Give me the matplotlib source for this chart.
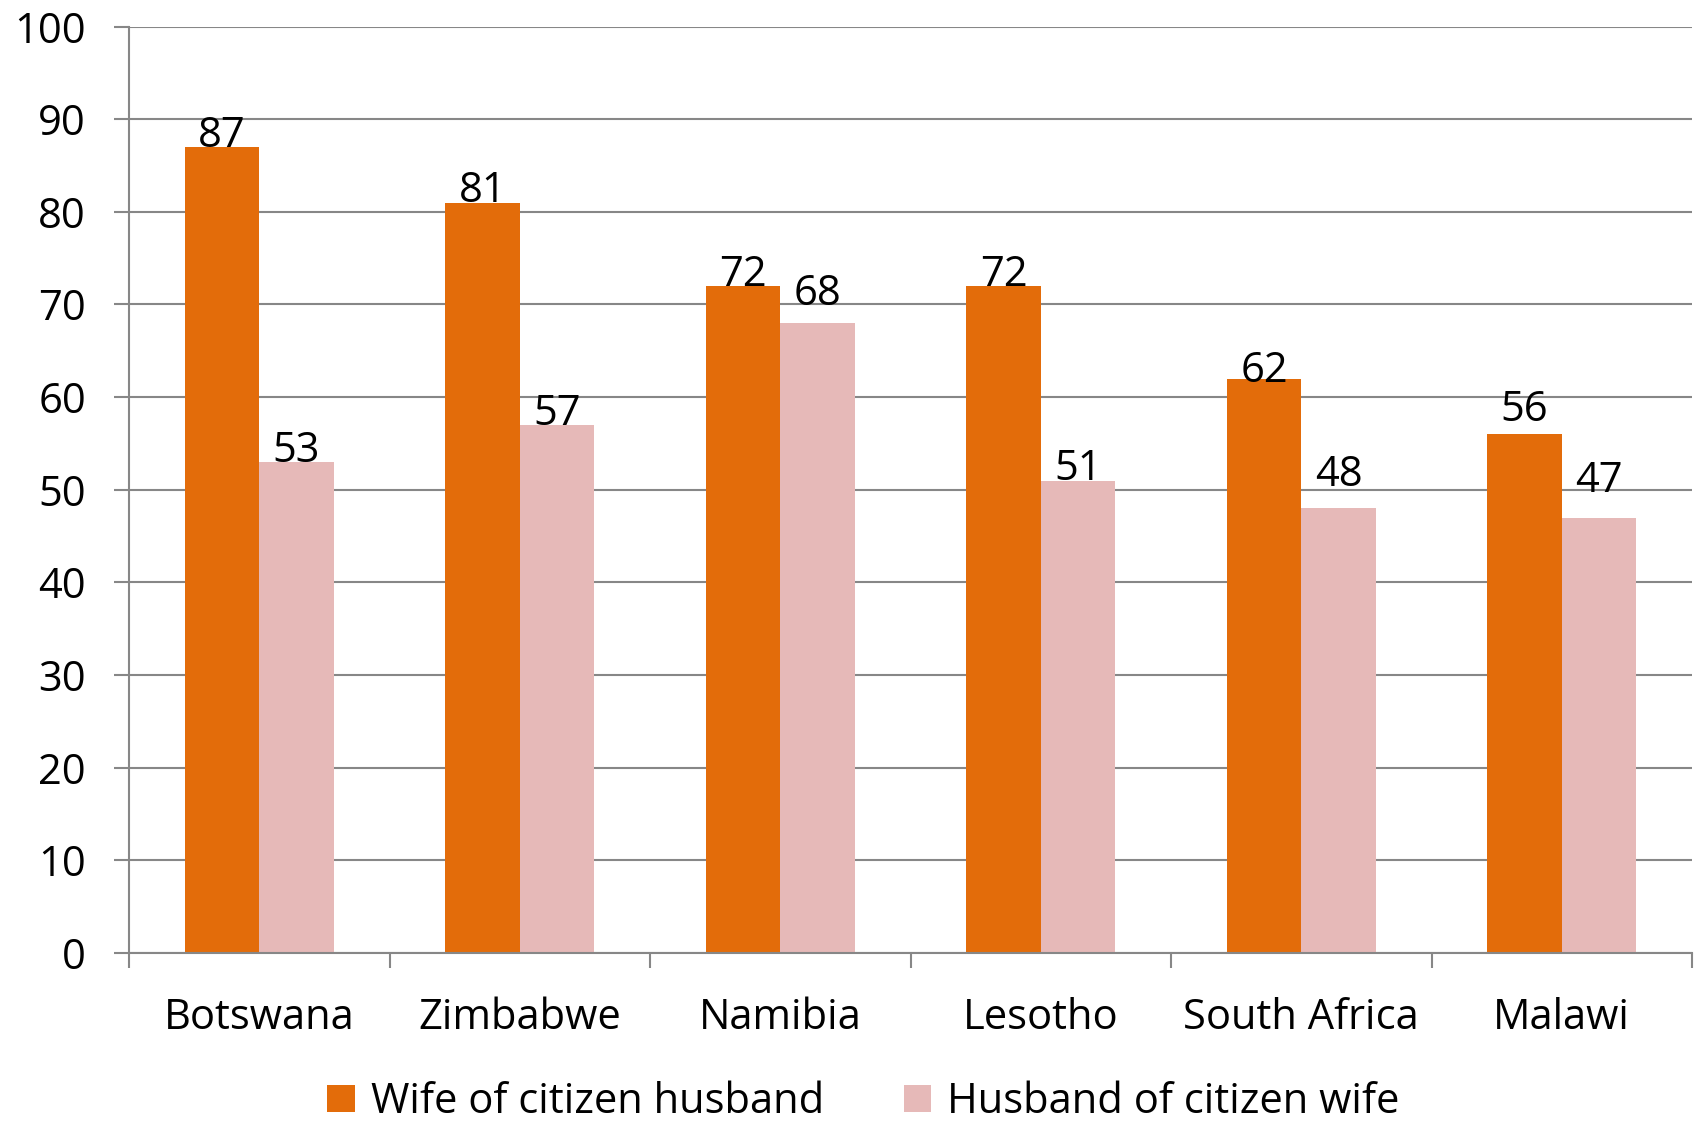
import matplotlib.pyplot as plt
import numpy as np

countries = ["Botswana", "Zimbabwe", "Namibia", "Lesotho", "South Africa", "Malawi"]
wife = [87, 81, 72, 72, 62, 56]
husband = [53, 57, 68, 51, 48, 47]
series_names = ["Wife of citizen husband", "Husband of citizen wife"]

orange = "#E36C0A"
pink = "#E6B9B8"
grey = "#878787"

# extra lift (points) of some value labels, as placed in the original
lift_wife = [0, 0, 0, 0, -3, 9]
lift_husband = [0, 0, 13, 0, 16, 18]

plt.rcParams['font.family'] = ['Open Sans', 'DejaVu Sans']

fig = plt.figure(figsize=(17, 11.25), dpi=100)
ax = fig.add_axes([0.0759, 0.1529, 0.9194, 0.8235])

x = np.arange(len(countries))
w = 0.286
b1 = ax.bar(x - w/2, wife, w, color=orange, label=series_names[0], zorder=2)
b2 = ax.bar(x + w/2, husband, w, color=pink, label=series_names[1], zorder=2)

# value labels sitting on the bars
for bars, lifts in ((b1, lift_wife), (b2, lift_husband)):
    for r, d in zip(bars, lifts):
        ax.annotate(str(int(r.get_height())), (r.get_x() + r.get_width()/2, r.get_height()),
                    xytext=(0, d - 7), textcoords="offset points",
                    ha="center", va="bottom", fontsize=30, zorder=3)

ax.set_xlim(-0.5, len(countries) - 0.5)
ax.set_ylim(0, 100)
ax.set_yticks(range(0, 101, 10))
ax.yaxis.grid(True, color=grey, linewidth=1.5, zorder=0)
ax.set_axisbelow(True)

ax.set_xticks(x)
ax.set_xticklabels(countries)
ax.set_xticks(np.arange(-0.5, len(countries)), minor=True)
ax.tick_params(axis="x", which="major", length=0, pad=32, labelsize=30)
ax.tick_params(axis="x", which="minor", length=11, width=1.5, color=grey)
ax.tick_params(axis="y", length=11, width=1.5, color=grey, pad=20, labelsize=30)

for s in ("top", "right"):
    ax.spines[s].set_visible(False)
for s in ("left", "bottom"):
    ax.spines[s].set_color(grey)
    ax.spines[s].set_linewidth(1.5)

ax.legend(loc="center", bbox_to_anchor=(0.47, -0.161), ncol=2, frameon=False,
          fontsize=30, handlelength=0.65, handleheight=0.65, handletextpad=0.4,
          columnspacing=1.9, borderpad=0.2)

fig.savefig("out.png", dpi=100)
